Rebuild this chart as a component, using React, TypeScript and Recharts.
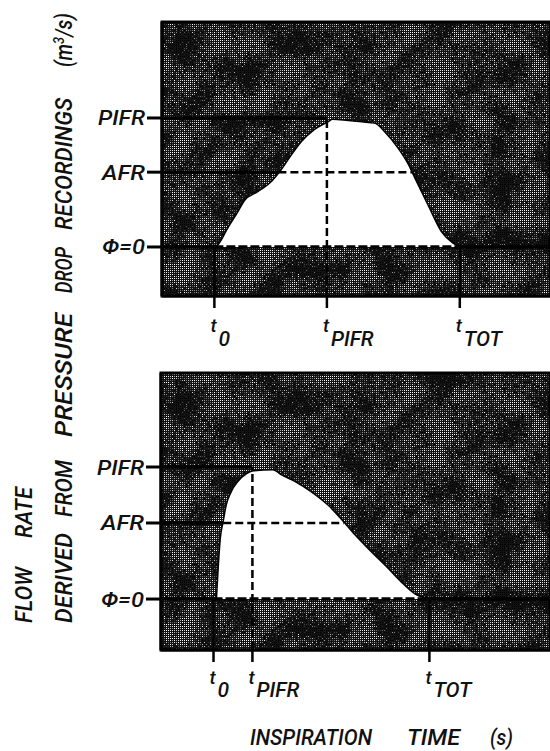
import {
  ComposedChart,
  Area,
  XAxis,
  YAxis,
  CartesianGrid,
  ReferenceLine,
  ReferenceArea,
} from "recharts";

const FONT = "Roboto, 'DejaVu Sans', 'Liberation Sans', sans-serif";

// upper panel: flow rate derived from the pressure drop recording
const topTime = [
  0.55, 0.58, 0.68, 0.78, 0.85, 0.99, 1.13, 1.23, 1.33, 1.44, 1.57, 1.71,
  1.76, 1.92, 2.06, 2.19, 2.3, 2.43, 2.54, 2.61, 2.74, 2.88, 3.0, 3.07,
];
const topFlow = [
  0, 0.02, 0.15, 0.27, 0.36, 0.43, 0.51, 0.6, 0.71, 0.82, 0.91, 0.97, 0.99,
  0.98, 0.97, 0.96, 0.89, 0.77, 0.64, 0.53, 0.33, 0.12, 0.03, 0,
];
const topMarks = [0.54, 1.7, 3.07]; // t0, tPIFR, tTOT
const topLevels = [0, 0.58, 1]; // 0, AFR, PIFR
const topAfrCross = [1.2, 2.58];

// lower panel
const bottomTime = [
  0.57, 0.59, 0.61, 0.64, 0.67, 0.72, 0.79, 0.88, 0.94, 1.15, 1.24, 1.38,
  1.55, 1.72, 1.86, 1.99, 2.16, 2.34, 2.47, 2.61, 2.76,
];
const bottomFlow = [
  0, 0.26, 0.46, 0.59, 0.71, 0.81, 0.89, 0.95, 0.97, 0.98, 0.94, 0.89, 0.81,
  0.71, 0.6, 0.49, 0.36, 0.23, 0.13, 0.04, 0,
];
const bottomMarks = [0.54, 0.94, 2.76];
const bottomLevels = [0, 0.576, 1];
const bottomAfrCross = [0.64, 1.88];

const markSubs = ["0", "PIFR", "TOT"];
const levelNames = ["Φ=0", "AFR", "PIFR"];
const levelWidths = [43, 43, 47];

const nearest = (arr: number[], v: number) => {
  let best = 0;
  arr.forEach((a, i) => {
    if (Math.abs(a - v) < Math.abs(arr[best] - v)) best = i;
  });
  return best;
};

const textStyle = {
  fontFamily: FONT,
  fontStyle: "italic" as const,
  fontWeight: 500,
  fill: "#111",
};

type PanelProps = {
  time: number[];
  flow: number[];
  marks: number[];
  levels: number[];
  afrCross: number[];
  yDomain: [number, number];
  top: number;
  height: number;
  marginTop: number;
  marginBottom: number;
  yWidth: number;
  xHeight: number;
  tOff: number;
  subOff: number;
};

const Panel = (p: PanelProps) => {
  const data = p.time.map((t, i) => ({ t, v: p.flow[i] }));
  const [t0, tPifr, tTot] = p.marks;
  const [zero, afr, pifr] = p.levels;
  const [yMin, yMax] = p.yDomain;

  const xTick = (props: any) => {
    const { x, y, payload } = props;
    const i = nearest(p.marks, payload.value);
    return (
      <g>
        <text x={x - 4} y={y + p.tOff} fontSize={19} style={textStyle}>
          t
        </text>
        <text x={x + 4} y={y + p.subOff} fontSize={21} style={textStyle}>
          {markSubs[i]}
        </text>
      </g>
    );
  };

  const yTick = (props: any) => {
    const { x, y, payload } = props;
    const i = nearest(p.levels, payload.value);
    return (
      <text
        x={x}
        y={y + 7.5}
        fontSize={21}
        textAnchor="end"
        textLength={levelWidths[i]}
        lengthAdjust="spacingAndGlyphs"
        style={textStyle}
      >
        {levelNames[i]}
      </text>
    );
  };

  const thick = { stroke: "#000", strokeWidth: 3.5 };
  const dashed = { stroke: "#000", strokeWidth: 2.5, strokeDasharray: "8 4" };

  return (
    <div style={{ position: "absolute", left: 0, top: p.top }}>
      <ComposedChart
        width={550}
        height={p.height}
        data={data}
        margin={{ top: p.marginTop, right: 0, bottom: p.marginBottom, left: 0 }}
      >
        <CartesianGrid
          horizontal={false}
          vertical={false}
          fill="url(#halftone)"
          fillOpacity={1}
        />
        <XAxis
          dataKey="t"
          type="number"
          domain={[0, 4]}
          ticks={p.marks}
          height={p.xHeight}
          tickSize={12}
          tickLine={{ stroke: "#000", strokeWidth: 2.5 }}
          axisLine={{ stroke: "#000", strokeWidth: 3 }}
          tick={xTick}
          allowDataOverflow
        />
        <YAxis
          type="number"
          domain={p.yDomain}
          ticks={p.levels}
          width={p.yWidth}
          tickSize={15}
          tickLine={{ stroke: "#000", strokeWidth: 3 }}
          axisLine={{ stroke: "#000", strokeWidth: 3 }}
          tick={yTick}
          allowDataOverflow
        />
        <Area
          dataKey="v"
          type="monotone"
          baseValue={0}
          stroke="#000"
          strokeWidth={1.5}
          fill="#fff"
          fillOpacity={1}
          dot={false}
          activeDot={false}
          isAnimationActive={false}
        />
        <ReferenceArea
          x1={0}
          x2={4}
          y1={yMin}
          y2={yMax}
          fill="none"
          stroke="#000"
          strokeWidth={3}
        />
        {/* solid level lines running in from the axis */}
        <ReferenceLine segment={[{ x: 0, y: pifr }, { x: tPifr, y: pifr }]} {...thick} />
        <ReferenceLine segment={[{ x: 0, y: afr }, { x: p.afrCross[0], y: afr }]} {...thick} />
        <ReferenceLine segment={[{ x: 0, y: zero }, { x: t0, y: zero }]} {...thick} />
        <ReferenceLine segment={[{ x: tTot, y: zero }, { x: 4, y: zero }]} {...thick} />
        {/* dashed construction lines */}
        <ReferenceLine
          segment={[{ x: p.afrCross[0], y: afr }, { x: p.afrCross[1], y: afr }]}
          {...dashed}
        />
        <ReferenceLine
          segment={[{ x: t0, y: zero }, { x: tTot, y: zero }]}
          stroke="#000"
          strokeWidth={3.5}
          strokeDasharray="9 3"
        />
        <ReferenceLine segment={[{ x: tPifr, y: yMin }, { x: tPifr, y: pifr }]} {...dashed} />
        <ReferenceLine
          segment={[{ x: t0, y: yMin }, { x: t0, y: zero }]}
          stroke="#000"
          strokeWidth={2.5}
        />
        <ReferenceLine
          segment={[{ x: tTot, y: yMin }, { x: tTot, y: zero }]}
          stroke="#000"
          strokeWidth={2.5}
        />
      </ComposedChart>
    </div>
  );
};

const Word = ({
  x,
  y,
  len,
  size,
  rotate,
  children,
}: {
  x: number;
  y: number;
  len: number;
  size: number;
  rotate?: boolean;
  children: any;
}) => (
  <text
    transform={`translate(${x},${y})${rotate ? " rotate(-90)" : ""}`}
    fontSize={size}
    textLength={len}
    lengthAdjust="spacingAndGlyphs"
    style={textStyle}
  >
    {children}
  </text>
);

const App = () => {
  return (
    <div
      style={{
        position: "absolute",
        left: 0,
        top: 0,
        width: 550,
        height: 751,
        overflow: "hidden",
        background: "#fff",
      }}
    >
      <Panel
        time={topTime}
        flow={topFlow}
        marks={topMarks}
        levels={topLevels}
        afrCross={topAfrCross}
        yDomain={[-0.38, 1.744]}
        top={0}
        height={360}
        marginTop={22}
        marginBottom={14}
        yWidth={162}
        xHeight={50}
        tOff={22}
        subOff={36}
      />
      <Panel
        time={bottomTime}
        flow={bottomFlow}
        marks={bottomMarks}
        levels={bottomLevels}
        afrCross={bottomAfrCross}
        yDomain={[-0.386, 1.712]}
        top={360}
        height={391}
        marginTop={13}
        marginBottom={61}
        yWidth={161}
        xHeight={40}
        tOff={20}
        subOff={33}
      />
      <svg
        width={550}
        height={751}
        style={{ position: "absolute", left: 0, top: 0, pointerEvents: "none" }}
      >
        <defs>
          {/* halftone-like texture: blotchy noise seen through a 2px dot grid */}
          <filter id="grain" x="0" y="0" width="1" height="1" colorInterpolationFilters="sRGB">
            <feTurbulence type="fractalNoise" baseFrequency="0.9" numOctaves={1} seed={3} result="fine" />
            <feColorMatrix
              in="fine"
              type="matrix"
              values="1 0 0 0 0  1 0 0 0 0  1 0 0 0 0  0 0 0 0 1"
              result="fineG"
            />
            <feTurbulence type="fractalNoise" baseFrequency="0.035" numOctaves={2} seed={11} result="coarse" />
            <feColorMatrix
              in="coarse"
              type="matrix"
              values="1 0 0 0 0  1 0 0 0 0  1 0 0 0 0  0 0 0 0 1"
              result="coarseG"
            />
            <feComposite in="fineG" in2="coarseG" operator="arithmetic" k1={0} k2={3} k3={2.5} k4={-2.3} />
          </filter>
          <pattern id="dotgrid" patternUnits="userSpaceOnUse" width={2} height={2}>
            <rect x={0} y={0} width={1} height={1} fill="#fff" />
          </pattern>
          <mask id="dotmask" maskUnits="userSpaceOnUse" x={0} y={0} width={550} height={751}>
            <rect width={550} height={751} fill="url(#dotgrid)" />
          </mask>
          <pattern id="halftone" patternUnits="userSpaceOnUse" width={550} height={751}>
            <rect width={550} height={751} fill="#121212" />
            <rect width={550} height={751} fill="#888" filter="url(#grain)" mask="url(#dotmask)" />
          </pattern>
        </defs>
        {/* y-axis title, two rotated lines */}
        <Word x={32} y={623} len={56} size={23} rotate>FLOW</Word>
        <Word x={32} y={538} len={51} size={23} rotate>RATE</Word>
        <Word x={72} y={623} len={90} size={23} rotate>DERIVED</Word>
        <Word x={72} y={517} len={57} size={23} rotate>FROM</Word>
        <Word x={72} y={437} len={124} size={23} rotate>PRESSURE</Word>
        <Word x={72} y={293} len={46} size={23} rotate>DROP</Word>
        <Word x={72} y={230} len={132} size={23} rotate>RECORDINGS</Word>
        <Word x={72} y={67} len={54} size={23} rotate>
          (m<tspan dy={-8} fontSize={15}>3</tspan>
          <tspan dy={8}>/s)</tspan>
        </Word>
        {/* x-axis title */}
        <Word x={250} y={745} len={122} size={22}>INSPIRATION</Word>
        <Word x={407} y={745} len={53} size={22}>TIME</Word>
        <Word x={490} y={745} len={23} size={22}>(s)</Word>
      </svg>
    </div>
  );
};

export default App;
